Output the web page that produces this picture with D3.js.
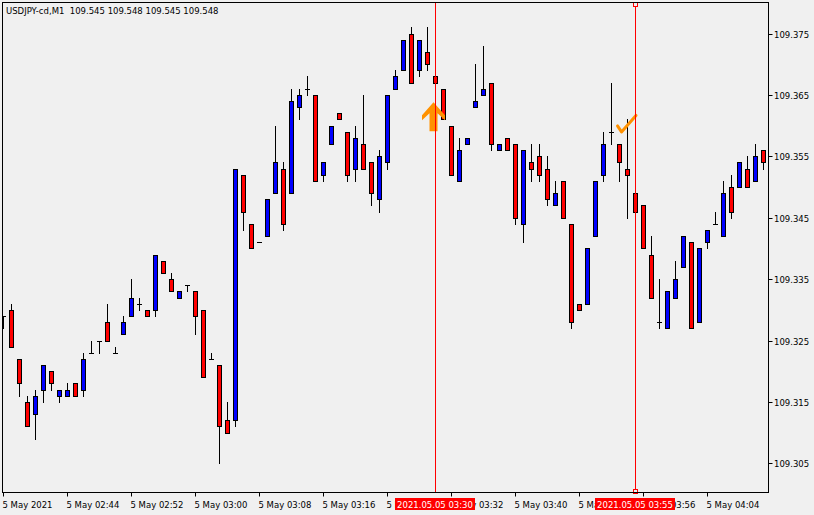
<!DOCTYPE html>
<html><head><meta charset="utf-8">
<script src="https://cdn.jsdelivr.net/npm/d3@7"></script>
<style>
body{margin:0;background:#f0f0f0;}
svg{display:block;}
text{font-family:"DejaVu Sans",Verdana,sans-serif;font-size:8.5px;white-space:pre;}
</style>
</head><body>
<svg id="chart" width="814" height="515"></svg>
<script>
// ---- data ----
const titleText = "USDJPY-cd,M1  109.545 109.548 109.545 109.548";
const firstBar = "2021-05-05T02:36:00";
const opens  = [109.329,109.330,109.322,109.315,109.313,109.317,109.320,109.316,109.316,109.318,
                109.317,109.323,109.325,109.328,109.323,109.326,109.329,109.331,109.330,109.330,
                109.338,109.335,109.332,109.334,109.333,109.330,109.322,109.321,109.312,109.312,
                109.352,109.344,109.341,109.342,109.349,109.353,109.349,109.363,109.366,109.365,
                109.352,109.357,109.362,109.359,109.353,109.357,109.354,109.348,109.354,109.366,
                109.369,109.375,109.369,109.372,109.368,109.366,109.360,109.351,109.357,109.363,
                109.365,109.367,109.356,109.358,109.357,109.344,109.354,109.355,109.353,109.347,
                109.351,109.344,109.331,109.331,109.342,109.352,109.359,109.357,109.353,109.349,
                109.347,109.339,109.328,109.327,109.332,109.337,109.341,109.328,109.341,109.344,
                109.342,109.350,109.350,109.353,109.351,109.356];
const highs  = [109.329,109.331,109.322,109.316,109.317,109.321,109.320,109.317,109.318,109.318,
                109.323,109.325,109.325,109.331,109.324,109.329,109.335,109.332,109.330,109.339,
                109.338,109.336,109.333,109.334,109.333,109.330,109.323,109.321,109.315,109.353,
                109.352,109.344,109.341,109.348,109.360,109.354,109.366,109.366,109.368,109.365,
                109.354,109.360,109.362,109.359,109.360,109.365,109.354,109.356,109.365,109.369,
                109.374,109.376,109.374,109.376,109.368,109.366,109.360,109.358,109.358,109.370,
                109.373,109.367,109.357,109.358,109.357,109.356,109.357,109.357,109.355,109.351,
                109.351,109.344,109.331,109.340,109.351,109.359,109.367,109.357,109.361,109.349,
                109.347,109.342,109.335,109.333,109.338,109.342,109.341,109.340,109.343,109.346,
                109.351,109.352,109.354,109.355,109.357,109.356];
const lows   = [109.327,109.324,109.316,109.311,109.309,109.315,109.317,109.315,109.316,109.316,
                109.316,109.323,109.323,109.325,109.323,109.326,109.329,109.330,109.329,109.329,
                109.336,109.333,109.332,109.333,109.326,109.319,109.322,109.305,109.310,109.311,
                109.343,109.340,109.341,109.342,109.349,109.343,109.349,109.361,109.365,109.351,
                109.351,109.357,109.361,109.351,109.351,109.353,109.347,109.346,109.353,109.366,
                109.369,109.367,109.368,109.369,109.367,109.361,109.352,109.351,109.357,109.363,
                109.365,109.356,109.356,109.356,109.344,109.341,109.351,109.351,109.347,109.347,
                109.345,109.327,109.330,109.331,109.342,109.351,109.357,109.351,109.345,109.346,
                109.340,109.332,109.327,109.327,109.332,109.337,109.327,109.328,109.340,109.344,
                109.342,109.345,109.350,109.350,109.351,109.353];
const closes = [109.329,109.324,109.318,109.311,109.316,109.321,109.318,109.317,109.317,109.316,
                109.322,109.323,109.325,109.325,109.323,109.328,109.332,109.331,109.329,109.339,
                109.336,109.333,109.333,109.334,109.329,109.319,109.322,109.311,109.310,109.353,
                109.346,109.340,109.341,109.348,109.354,109.344,109.364,109.365,109.366,109.351,
                109.354,109.360,109.361,109.352,109.358,109.353,109.349,109.355,109.365,109.368,
                109.374,109.367,109.374,109.370,109.367,109.361,109.352,109.356,109.358,109.364,
                109.366,109.357,109.357,109.356,109.345,109.356,109.353,109.352,109.348,109.349,
                109.345,109.328,109.330,109.340,109.351,109.357,109.359,109.354,109.352,109.346,
                109.340,109.332,109.328,109.333,109.335,109.342,109.327,109.340,109.343,109.344,
                109.349,109.346,109.354,109.350,109.355,109.354];
const yTickValues = [109.305,109.315,109.325,109.335,109.345,109.355,109.365,109.375];
const xTickTimes  = ["02:36","02:44","02:52","03:00","03:08","03:16","03:24","03:32","03:40","03:48","03:56","04:04"];
const xTickLabels = ["5 May 2021","5 May 02:44","5 May 02:52","5 May 03:00","5 May 03:08","5 May 03:16",
                     "5 May 03:24","5 May 03:32","5 May 03:40","5 May 03:48","5 May 03:56","5 May 04:04"];
const vLineTimes  = ["03:30","03:55"];
const vLineLabels = ["2021.05.05 03:30","2021.05.05 03:55"];
const arrowMark = {time:"03:30", price:109.3638};
const checkMark = {time:"03:53", price:109.3619};

// ---- build ----
const parseHM = s => new Date("2021-05-05T" + s + ":00");
const t0 = new Date(firstBar);
const bars = opens.map((o,i)=>({t:d3.timeMinute.offset(t0,i),o,h:highs[i],l:lows[i],c:closes[i]}));

const W=814,H=515;
const plot = {l:2.5, r:768.5, t:2.5, b:492.5};
const x = d3.scaleTime().domain([t0, d3.timeMinute.offset(t0,95)]).range([3,763]);
const y = d3.scaleLinear().domain([109.305,109.375]).range([463.3,33.5]);
const px = t => Math.round(x(t));
const py = p => Math.round(y(p));

const svg = d3.select("#chart");
svg.append("rect").attr("width",W).attr("height",H).attr("fill","#f0f0f0");
svg.append("defs").append("clipPath").attr("id","clip")
  .append("rect").attr("x",3).attr("y",3).attr("width",765).attr("height",489);

const g = svg.append("g").attr("clip-path","url(#clip)");

// candles
const cg = g.selectAll("g.bar").data(bars).join("g").attr("class","bar");
cg.append("line")
  .attr("x1",d=>px(d.t)+0.5).attr("x2",d=>px(d.t)+0.5)
  .attr("y1",d=>py(d.h)).attr("y2",d=>py(d.l)+1)
  .attr("stroke","#000").attr("stroke-width",1);
cg.filter(d=>d.o!==d.c).append("rect")
  .attr("x",d=>px(d.t)-1.5).attr("width",4)
  .attr("y",d=>py(Math.max(d.o,d.c))+0.5)
  .attr("height",d=>py(Math.min(d.o,d.c))-py(Math.max(d.o,d.c)))
  .attr("fill",d=>d.c>d.o?"#0000ff":"#ff0000")
  .attr("stroke","#000").attr("stroke-width",1);
cg.filter(d=>d.o===d.c).append("line")
  .attr("x1",d=>px(d.t)-2).attr("x2",d=>px(d.t)+3)
  .attr("y1",d=>py(d.o)+0.5).attr("y2",d=>py(d.o)+0.5)
  .attr("stroke","#000").attr("stroke-width",1);

// arrow
const ax = px(parseHM(arrowMark.time)) - 1.5, ay = y(arrowMark.price);
const arrowPts = [[0,0],[11.5,13],[11.5,18],[4,11],[4,29],[-4,29],[-4,11],[-11.5,18],[-11.5,13]];
g.append("polygon").attr("points",arrowPts.map(p=>[ax+p[0],ay+p[1]].join(",")).join(" "))
  .attr("fill","#ff9100");
// check mark
const kx = px(parseHM(checkMark.time)), ky = y(checkMark.price);
g.append("path")
  .attr("d",`M${kx-1.5},${ky+12} L${kx+2.5},${ky+18} L${kx+17},${ky+1.5}`)
  .attr("fill","none").attr("stroke","#ff9100").attr("stroke-width",3)
  .attr("stroke-linecap","round").attr("stroke-linejoin","round");

// vertical lines
vLineTimes.forEach((s,i)=>{
  const vx = px(parseHM(s))+0.5;
  svg.append("line").attr("x1",vx).attr("x2",vx).attr("y1",plot.t).attr("y2",plot.b)
    .attr("stroke","#ff0000").attr("stroke-width",1);
  if(i===1){
    [plot.t, plot.b-3].forEach(yy=>{
      svg.append("rect").attr("x",vx-2).attr("y",yy).attr("width",4).attr("height",4)
        .attr("fill","#f0f0f0").attr("stroke","#ff0000").attr("stroke-width",1);
    });
  }
});

// border
svg.append("rect").attr("x",plot.l).attr("y",plot.t)
  .attr("width",plot.r-plot.l).attr("height",plot.b-plot.t)
  .attr("fill","none").attr("stroke","#000").attr("stroke-width",1);

// title
svg.append("text").attr("x",6).attr("y",14).attr("fill","#000").text(titleText);

// y axis
yTickValues.forEach(v=>{
  const yy = py(v)+0.5;
  svg.append("line").attr("x1",plot.r).attr("x2",plot.r+4).attr("y1",yy).attr("y2",yy).attr("stroke","#000");
  svg.append("text").attr("x",774).attr("y",yy+3.5).attr("fill","#000").text(v.toFixed(3));
});

// x axis
xTickTimes.forEach((s,i)=>{
  const xx = px(parseHM(s))+0.5;
  svg.append("line").attr("x1",xx).attr("x2",xx).attr("y1",plot.b).attr("y2",plot.b+4).attr("stroke","#000");
  svg.append("text").attr("x",xx-1).attr("y",507.5).attr("fill","#000").text(xTickLabels[i]);
});

// vertical line labels
vLineTimes.forEach((s,i)=>{
  const cx = px(parseHM(s));
  svg.append("rect").attr("x",cx-40).attr("y",498).attr("width",80).attr("height",12).attr("fill","#ff0000");
  svg.append("text").attr("x",cx).attr("y",507.5).attr("text-anchor","middle").attr("fill","#fff").text(vLineLabels[i]);
});
</script>
</body></html>
